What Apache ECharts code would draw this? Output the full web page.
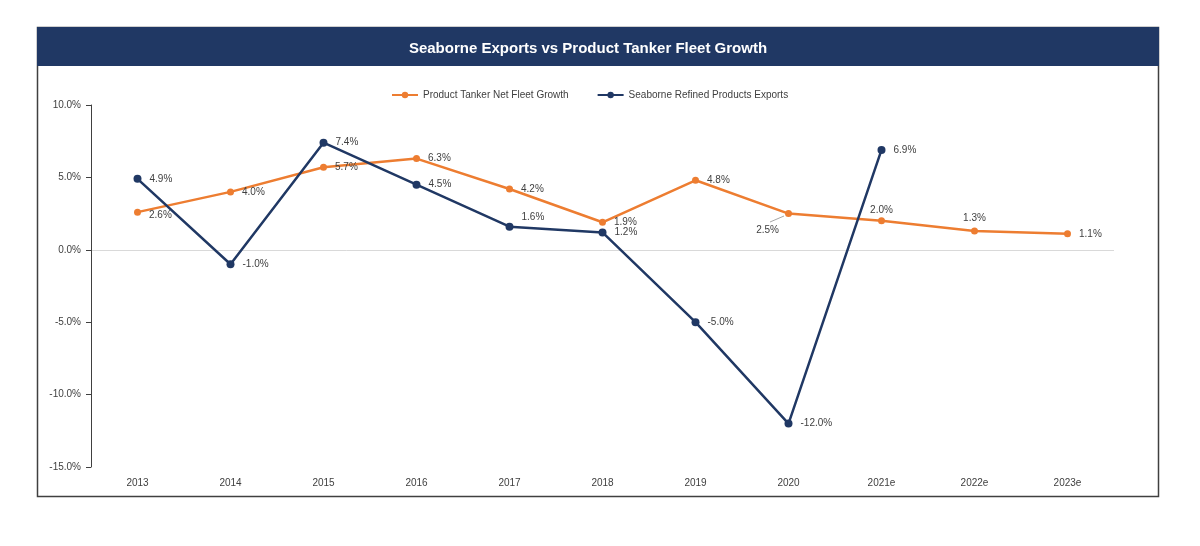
<!DOCTYPE html>
<html>
<head>
<meta charset="utf-8">
<script src="https://cdn.jsdelivr.net/npm/echarts@6/dist/echarts.min.js"></script>
<style>
html,body{margin:0;padding:0;background:#fff;}
#chart{width:1200px;height:546px;}
</style>
</head>
<body>
<div id="chart"></div>
<script>
const categories = ['2013','2014','2015','2016','2017','2018','2019','2020','2021e','2022e','2023e'];
const fleetGrowth = [2.6, 4.0, 5.7, 6.3, 4.2, 1.9, 4.8, 2.5, 2.0, 1.3, 1.1];
const exportsGrowth = [4.9, -1.0, 7.4, 4.5, 1.6, 1.2, -5.0, -12.0, 6.9, null, null];
const seriesNames = ['Product Tanker Net Fleet Growth', 'Seaborne Refined Products Exports'];
const titleText = 'Seaborne Exports vs Product Tanker Fleet Growth';

const ORANGE = '#ED7D31';
const NAVY = '#203864';
const TEXT = '#404040';
const FONT = '"Liberation Sans", Arial, sans-serif';

// label placement (style only)
const fleetLabelPos = [
  {position:'right', offset:[0,3]}, {position:'right'}, {position:'right'}, {position:'right'},
  {position:'right'}, {position:'right'}, {position:'right'}, {position:'left', offset:[2,17]},
  {position:'top', distance:2}, {position:'top', distance:4}, {position:'right'}
];
const exportLabelPos = [
  {position:'right'}, {position:'right'}, {position:'right'}, {position:'right'},
  {position:'right', offset:[0,-9]}, {position:'right'}, {position:'right'}, {position:'right'},
  {position:'right'}, {position:'right'}, {position:'right'}
];

function buildData(vals, pos) {
  return vals.map((v, i) => ({
    value: v,
    label: Object.assign({}, pos[i])
  }));
}

const chart = echarts.init(document.getElementById('chart'), null, {renderer:'canvas'});
chart.setOption({
  animation: false,
  textStyle: {fontFamily: FONT},
  graphic: [
    {type:'rect', shape:{x:37.5, y:27.5, width:1121, height:469}, style:{fill:'#fff', stroke:'#404040', lineWidth:1.5}, z:-10},
    {type:'rect', shape:{x:37, y:27, width:1122, height:39}, style:{fill:NAVY}, z:-9},
    {type:'line', shape:{x1:770, y1:222, x2:784, y2:216}, style:{stroke:'#A6A6A6', lineWidth:1}, z:5}
  ],
  title: {
    text: titleText,
    left: 583, top: 36, textAlign: 'center',
    textStyle: {color:'#fff', fontSize:15, fontWeight:'bold', fontFamily: FONT}
  },
  legend: {
    top: 85, left: 386,
    itemWidth: 26, itemHeight: 8, itemGap: 28,
    textStyle: {color: TEXT, fontSize: 10, fontFamily: FONT},
    data: seriesNames
  },
  grid: {left: 91, right: 86, top: 105, bottom: 79},
  xAxis: {
    type: 'category',
    data: categories,
    boundaryGap: true,
    axisLine: {show: false},
    axisTick: {show: false},
    axisLabel: {color: TEXT, fontSize: 10, margin: 11, fontFamily: FONT}
  },
  yAxis: {
    type: 'value',
    min: -15, max: 10, interval: 5,
    axisLine: {show: true, lineStyle: {color: '#404040', width: 1}},
    axisTick: {show: true, length: 5, lineStyle: {color: '#404040'}},
    axisLabel: {color: TEXT, fontSize: 10, margin: 10, fontFamily: FONT,
      formatter: v => v.toFixed(1) + '%'},
    splitLine: {show: true, lineStyle: {color: ['transparent','transparent','transparent','#D9D9D9','transparent','transparent'], width: 1}}
  },
  series: [
    {
      name: seriesNames[0], type: 'line',
      data: buildData(fleetGrowth, fleetLabelPos),
      symbol: 'circle', symbolSize: 7,
      lineStyle: {color: ORANGE, width: 2.5},
      itemStyle: {color: ORANGE},
      label: {show: true, color: TEXT, fontSize: 10, distance: 8, fontFamily: FONT,
        formatter: p => p.value.toFixed(1) + '%'},
      z: 2
    },
    {
      name: seriesNames[1], type: 'line',
      data: buildData(exportsGrowth, exportLabelPos),
      symbol: 'circle', symbolSize: 8,
      lineStyle: {color: NAVY, width: 2.5},
      itemStyle: {color: NAVY},
      label: {show: true, color: TEXT, fontSize: 10, distance: 8, fontFamily: FONT,
        formatter: p => p.value == null ? '' : p.value.toFixed(1) + '%'},
      z: 3
    }
  ]
});
</script>
</body>
</html>
